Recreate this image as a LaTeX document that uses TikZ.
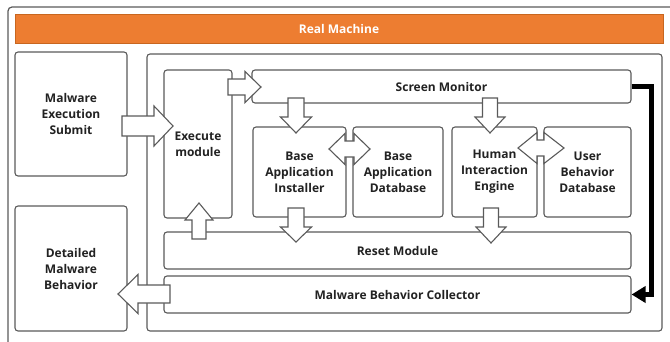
\documentclass[tikz,border=0pt]{standalone}
\usepackage{fontspec}
\setmainfont{Open Sans}
\usetikzlibrary{arrows.meta}
\definecolor{ln}{HTML}{5A5A5A}
\definecolor{tx}{HTML}{222222}
\definecolor{org}{HTML}{ED7D31}
\definecolor{orgd}{HTML}{C8661F}
\newcommand{\harr}[6]{% x1, x2, y, shaft half, head half, head base x
  \draw[blk] (#1,{#3-#4}) -- (#6,{#3-#4}) -- (#6,{#3-#5}) -- (#2,#3) -- (#6,{#3+#5}) -- (#6,{#3+#4}) -- (#1,{#3+#4}) -- cycle;}
\newcommand{\varr}[6]{% x, y1, y2, shaft half, head half, head base y
  \draw[blk] ({#1-#4},#2) -- ({#1-#4},#6) -- ({#1-#5},#6) -- (#1,#3) -- ({#1+#5},#6) -- ({#1+#4},#6) -- ({#1+#4},#2) -- cycle;}
\newcommand{\dharr}[7]{% x1, x2, y, shaft half, head half, b1, b2
  \draw[blk] (#1,#3) -- (#6,{#3-#5}) -- (#6,{#3-#4}) -- (#7,{#3-#4}) -- (#7,{#3-#5}) -- (#2,#3) -- (#7,{#3+#5}) -- (#7,{#3+#4}) -- (#6,{#3+#4}) -- (#6,{#3+#5}) -- cycle;}
\begin{document}
\begin{tikzpicture}[x=1pt,y=-1pt,
  box/.style={draw=ln, line width=1.1pt, rounded corners=3pt, fill=white, inner sep=0pt,
    text=tx, font=\fontsize{12}{16}\selectfont\bfseries, align=center},
  blk/.style={draw=ln, line width=1.1pt, fill=white, line join=miter},
]
\useasboundingbox (0,0) rectangle (670,341);
% outer frame
\draw[ln, line width=1.2pt, rounded corners=4pt] (8,345) -- (8,7) -- (675,7);
% orange bar
\node[draw=orgd, line width=0.8pt, fill=org, minimum width=648pt, minimum height=29pt, inner sep=0pt,
  text=white, font=\fontsize{12}{16}\selectfont\bfseries] (real) at (339,28.5) {Real Machine};
% left boxes
\node[box, minimum width=112pt, minimum height=124pt] (submit) at (71,114) {Malware\\Execution\\Submit};
\node[box, minimum width=112pt, minimum height=125pt] (detail) at (71,268.5) {Detailed\\Malware\\Behavior};
% container
\node[box, minimum width=515pt, minimum height=277pt] (cont) at (404.5,192.5) {};
% inner boxes
\node[box, minimum width=68pt, minimum height=148pt] (exec) at (198,144) {Execute\\module};
\node[box, minimum width=379pt, minimum height=33pt] (screen) at (441.5,86.5) {Screen Monitor};
\node[box, minimum width=93pt, minimum height=90pt] (bai) at (299.5,172) {Base\\Application\\Installer};
\node[box, minimum width=90pt, minimum height=90pt] (bad) at (398,172) {Base\\Application\\Database};
\node[box, minimum width=85pt, minimum height=90pt] (hie) at (494.5,172) {Human\\Interaction\\Engine};
\node[box, minimum width=87pt, minimum height=90pt] (ubd) at (587.5,172) {User\\Behavior\\Database};
\node[box, minimum width=467pt, minimum height=37pt] (reset) at (397.5,250.5) {Reset Module};
\node[box, minimum width=467pt, minimum height=37pt] (coll) at (397.5,294.5) {Malware Behavior Collector};
% block arrows
\harr{122}{173}{126}{10}{20}{154}
\harr{228}{261}{87}{8}{15.5}{245}
\varr{296}{98}{133}{8}{15.5}{117}
\varr{490}{98}{133}{7.5}{15}{117}
\dharr{329}{370}{149}{8}{15.5}{345}{354}
\dharr{518}{564}{148}{8}{15.5}{537}{544}
\varr{296}{208}{242}{8}{15.5}{227}
\varr{491}{208}{243}{7.5}{15}{227}
\varr{199}{239}{203}{7}{14}{220}
\harr{170}{118}{294}{9}{19.5}{138}
% black feedback arrow
\coordinate (sr) at (screen.east);
\coordinate (cr) at (coll.east);
\draw[black, line width=4.5pt, -{Triangle[length=14pt,width=16pt]}] (sr) -- (651.5,86.5) |- (cr);
\end{tikzpicture}
\end{document}
